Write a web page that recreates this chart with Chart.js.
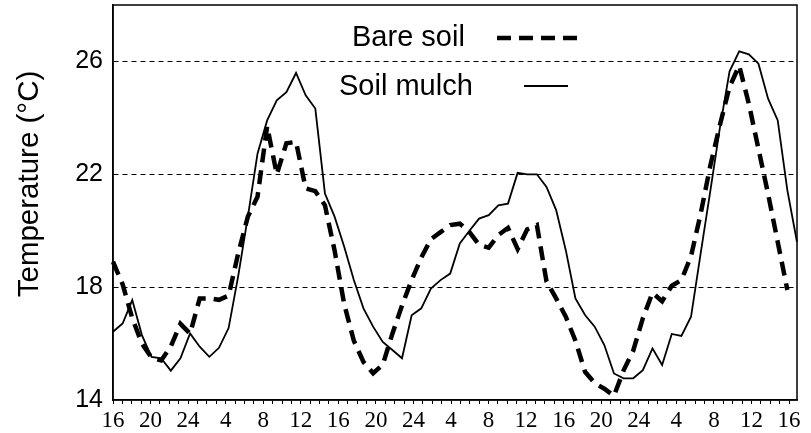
<!DOCTYPE html>
<html lang="en">
<head>
<meta charset="UTF-8">
<title>Soil temperature</title>
<script src="https://cdn.jsdelivr.net/npm/chart.js"></script>
<style>
  html, body { margin: 0; padding: 0; background: #fff; }
  #wrap { width: 811px; height: 433px; }
</style>
</head>
<body>
<div id="wrap"><canvas id="chart"></canvas></div>
<script>
// hour of day under the x axis, one label every 4 h
var timeLabels = [16, 20, 24, 4, 8, 12, 16, 20, 24, 4, 8, 12, 16, 20, 24, 4, 8, 12, 16];
var tempTicks = [14, 18, 22, 26];

// soil temperature (°C), hourly readings
var bareSoil = [
  18.9, 18.1, 16.9, 16.0, 15.5, 15.4, 15.9, 16.7, 16.35, 17.6,
  17.6, 17.55, 17.7, 19.2, 20.5, 21.2, 23.7, 22.0, 23.1, 23.15,
  21.5, 21.4, 20.9, 19.3, 17.4, 16.1, 15.35, 14.95, 15.25, 16.35,
  17.35, 18.25, 19.05, 19.7, 19.95, 20.2, 20.25, 19.95, 19.5, 19.4,
  19.85, 20.1, 19.35, 20.05, 20.2, 18.2, 17.6, 16.95, 16.1, 15.0,
  14.6, 14.4, 14.15, 15.05, 15.75, 16.9, 17.8, 17.5, 18.05, 18.25,
  19.1, 20.6, 22.3, 23.75, 25.1, 25.85, 24.5, 22.9, 21.3, 19.6,
  17.9
];
var soilMulch = [
  16.42, 16.71, 17.54, 16.3, 15.53, 15.48, 15.04, 15.48, 16.36, 15.89,
  15.53, 15.85, 16.55, 18.4, 20.5, 22.73, 23.91, 24.62, 24.91, 25.59,
  24.8, 24.33, 21.32, 20.5, 19.43, 18.25, 17.25, 16.6, 16.06, 15.77,
  15.48, 17.0, 17.25, 17.95, 18.25, 18.48, 19.55, 20.0, 20.43, 20.55,
  20.9, 20.96, 22.05, 22.0, 22.0, 21.55, 20.73, 19.31, 17.6, 17.01,
  16.6, 15.95, 14.94, 14.77, 14.77, 15.06, 15.83, 15.24, 16.34, 16.27,
  16.95, 19.2, 21.4, 23.65, 25.65, 26.36, 26.25, 25.92, 24.68, 23.91,
  21.43, 19.6
];
var readings = soilMulch.map(function (v, i) { return i; });

// top and right edge of the plot box
var framePlugin = {
  id: 'frame',
  afterDraw: function (chart) {
    var a = chart.chartArea, ctx = chart.ctx;
    ctx.save();
    ctx.strokeStyle = '#000';
    ctx.lineWidth = 1.5;
    ctx.strokeRect(a.left, a.top, a.right - a.left, a.bottom - a.top);
    ctx.restore();
  }
};

// legend inside the plot (text first, line sample after it) + y title
var insideLegend = {
  id: 'insideLegend',
  afterDraw: function (chart, args, opts) {
    var ctx = chart.ctx;
    ctx.save();
    ctx.font = opts.font;
    ctx.fillStyle = '#000';
    ctx.textBaseline = 'middle';
    chart.data.datasets.forEach(function (ds, i) {
      var it = opts.items[i];
      ctx.fillText(ds.label, it.x, it.y);
      ctx.beginPath();
      ctx.setLineDash(ds.borderDash || []);
      ctx.lineWidth = ds.borderWidth;
      ctx.strokeStyle = ds.borderColor;
      ctx.moveTo(it.x1, it.ly);
      ctx.lineTo(it.x2, it.ly);
      ctx.stroke();
    });
    ctx.restore();

    // y axis title, sits a bit above the middle of the axis
    var t = opts.yTitle;
    ctx.save();
    ctx.font = t.font;
    ctx.fillStyle = '#000';
    ctx.textAlign = 'center';
    ctx.textBaseline = 'middle';
    ctx.translate(t.x, t.y);
    ctx.rotate(-Math.PI / 2);
    ctx.fillText(t.text, 0, 0);
    ctx.restore();
  }
};

var ctx = document.getElementById('chart');
var myChart = new Chart(ctx, {
  type: 'line',
  data: {
    labels: readings,
    datasets: [{
      label: 'Bare soil',
      data: bareSoil,
      borderColor: '#000',
      borderWidth: 4.5,
      borderDash: [14, 8],
      pointRadius: 0,
      fill: false
    }, {
      label: 'Soil mulch',
      data: soilMulch,
      borderColor: '#000',
      borderWidth: 1.8,
      pointRadius: 0,
      fill: false
    }]
  },
  options: {
    responsive: true,
    maintainAspectRatio: false,
    animation: false,
    devicePixelRatio: 1,
    layout: { padding: { top: 5, right: 14, left: 0, bottom: 0 } },
    plugins: {
      legend: { display: false },
      tooltip: { enabled: false },
      insideLegend: {
        font: '29px "Liberation Sans", Arial, sans-serif',
        items: [
          { x: 352, y: 38, x1: 497, x2: 578, ly: 38 },
          { x: 339, y: 87, x1: 524, x2: 568, ly: 86 }
        ],
        yTitle: {
          text: 'Temperature (°C)',
          x: 30,
          y: 184,
          font: '29.5px "Liberation Sans", Arial, sans-serif'
        }
      }
    },
    scales: {
      x: {
        type: 'category',
        display: false
      },
      hours: {
        type: 'linear',
        position: 'bottom',
        min: 0,
        max: 72.85,
        afterBuildTicks: function (s) {
          var t = [];
          for (var h = 0; h <= 72; h++) t.push({ value: h });
          s.ticks = t;
        },
        afterFit: function (s) {
          s.height = 33;
          s.paddingLeft = 0;
          s.paddingRight = 0;
        },
        grid: { drawOnChartArea: false, tickLength: 4, tickColor: '#000', tickWidth: 1 },
        border: { display: true, color: '#000', width: 1.5 },
        ticks: {
          autoSkip: false,
          maxRotation: 0,
          padding: 3,
          color: '#000',
          font: { family: '"Liberation Serif", "Times New Roman", serif', size: 23 },
          callback: function (v) { return v % 4 === 0 ? timeLabels[v / 4] : ''; }
        }
      },
      y: {
        min: 14,
        max: 28,
        afterBuildTicks: function (s) {
          s.ticks = tempTicks.map(function (v) { return { value: v }; });
        },
        afterFit: function (s) {
          s.width = 113;
          s.paddingTop = 0;
          s.paddingBottom = 0;
        },
        grid: {
          drawTicks: false,
          color: function (c) { return c.tick && c.tick.value === 14 ? 'rgba(0,0,0,0)' : '#000'; },
          lineWidth: 1
        },
        border: { display: true, color: '#000', width: 1.5, dash: [5, 4] },
        ticks: {
          padding: 10,
          color: '#000',
          font: { family: '"Liberation Sans", Arial, sans-serif', size: 25 }
        }
      }
    }
  },
  plugins: [framePlugin, insideLegend]
});
</script>
</body>
</html>
